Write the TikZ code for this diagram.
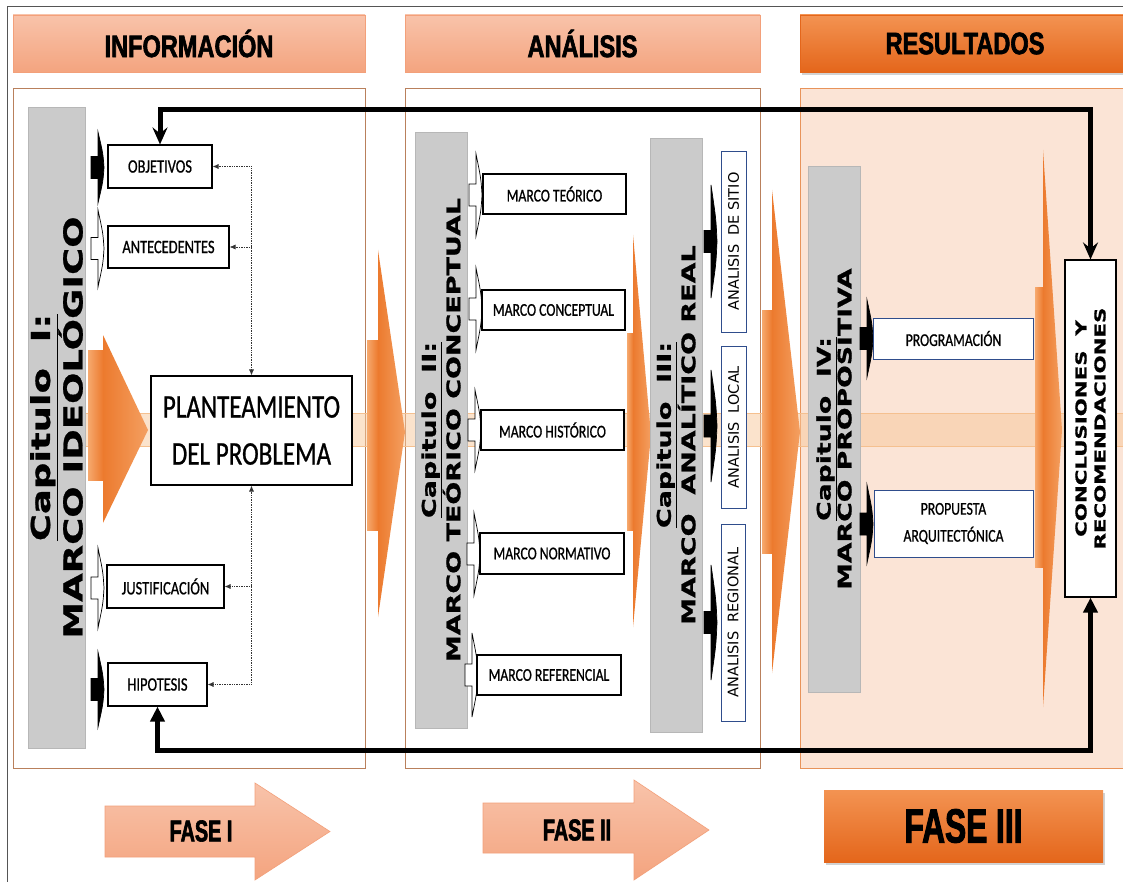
\documentclass[tikz,border=0pt]{standalone}
\usepackage{fontspec}
\usepackage{xcolor}
\usetikzlibrary{calc,positioning,arrows.meta,shadows}

\newfontfamily\boxfont[FakeStretch=0.76,FakeBold=0.8]{Carlito}
\newfontfamily\capfont[FakeStretch=1.42,FakeBold=1]{DejaVu Sans Bold}
\newfontfamily\headfont[FakeStretch=0.76,FakeBold=2]{Liberation Sans Bold}
\newfontfamily\fasefont[FakeStretch=0.66,FakeBold=2]{Liberation Sans Bold}
\newfontfamily\sidefont{DejaVu Sans}

\definecolor{salmonT}{HTML}{F8C3AA}
\definecolor{salmonB}{HTML}{F4A47F}
\definecolor{salmonline}{HTML}{F3A07A}
\definecolor{orangeT}{HTML}{F39352}
\definecolor{orangeB}{HTML}{E4661B}
\definecolor{panelline}{HTML}{B9805C}
\definecolor{peach}{HTML}{FBE4D6}
\definecolor{peachline}{HTML}{E8935A}
\definecolor{band}{HTML}{F9C89A}
\definecolor{bandline}{HTML}{F5C08F}
\definecolor{bigorange}{HTML}{EC7A2E}
\definecolor{bigorangeL}{HTML}{F6A96E}
\definecolor{bargray}{HTML}{CBCBCB}
\definecolor{boxblue}{HTML}{2F4D8C}
\definecolor{framegray}{HTML}{555555}

% big 3d orange arrow: xl, xt, xp, ytop, ybev1, ymid, ybev2, ybot
\newcommand{\bigarrow}[8]{%
  \shade[left color=bigorangeL,right color=bigorange] (#1,#5) rectangle (#2,#7);
  \shade[left color=bigorange,right color=bigorangeL!80!bigorange] (#2,#4) -- (#3,#6) -- (#2,#8) -- cycle;
}
% small bullet arrow: left x, top y, bottom y, fill
\newcommand{\tagarrow}[4]{%
  \draw[line width=0.7pt,fill=#4] (#1+7,#2) .. controls (#1+12,{#2+0.3*(#3-#2)}) .. (#1+13,{0.5*(#2+#3)})
    .. controls (#1+12,{#2+0.7*(#3-#2)}) .. (#1+7,#3) -- (#1+7,{0.5*(#2+#3)+11}) -- (#1,{0.5*(#2+#3)+11})
    -- (#1,{0.5*(#2+#3)-11}) -- (#1+7,{0.5*(#2+#3)-11}) -- cycle;
}

\begin{document}
\begin{tikzpicture}[x=1pt,y=-1pt,
    box/.style={draw=black,line width=1.1pt,fill=white,inner sep=0pt,align=center,
                font=\boxfont\fontsize{19}{21}\selectfont},
    mbox/.style={box,minimum width=144pt,minimum height=40pt,font=\boxfont\fontsize{18}{20}\selectfont},
    bluebox/.style={box,draw=boxblue,line width=0.9pt,font=\boxfont\fontsize{18}{27}\selectfont},
    sidebox/.style={box,draw=boxblue,line width=0.9pt,rotate=90,font=\sidefont\fontsize{14.5}{16}\selectfont},
    bar/.style={fill=bargray,draw=bargray!90!black,line width=0.4pt,rotate=90,inner sep=0pt,align=center},
    head/.style={draw=salmonline,line width=0.6pt,top color=salmonT,bottom color=salmonB,
                 inner sep=0pt,minimum height=57pt,font=\headfont\fontsize{31}{31}\selectfont},
    panel/.style={draw=panelline,line width=0.8pt,fill=white},
    dotline/.style={densely dotted,line width=0.7pt,draw=black!80,-{Latex[length=6pt,width=5pt]}},
    fback/.style={line width=5pt,black},
    fase/.style={draw=salmonline,line width=0.6pt,top color=salmonT,bottom color=salmonB}]

  \useasboundingbox (0,0) rectangle (1123,882);
  \fill[white] (0,0) rectangle (1123,882);
  \draw[framegray,line width=1pt] (7,882) -- (7,7) -- (1123,7);

  % headers
  \node[head,minimum width=352pt] (info) at (189,43.5) {INFORMACIÓN};
  \node[head,minimum width=355pt] (anal) at (582.5,43.5) {ANÁLISIS};
  \node[head,minimum width=330pt,top color=orangeT,bottom color=orangeB,draw=orangeB,
        drop shadow={opacity=0.35,shadow xshift=2pt,shadow yshift=-3pt}] (resu) at (965,43.5) {RESULTADOS};

  % panels
  \draw[panel] (13,88) rectangle (365,768);
  \draw[panel] (405,88) rectangle (760,768);
  \draw[draw=peachline,line width=0.8pt,fill=peach] (800,88) rectangle (1130,768);

  % band
  \fill[band,opacity=0.5] (85,413) rectangle (1123,446);
  \draw[bandline,line width=0.5pt] (85,413) -- (1123,413) (85,446) -- (1123,446);

  % big arrows
  \bigarrow{88}{103}{148}{335}{350}{430}{480}{523}
  \bigarrow{367}{378}{405}{250}{340}{432}{530}{617}
  \bigarrow{627}{633}{651}{235}{333}{435}{530}{627}
  \bigarrow{762}{772}{800}{190}{310}{432}{553}{673}
  \bigarrow{1035}{1043}{1062}{150}{288}{430}{567}{707}

  % chapters
  \node[bar,minimum width=641pt,minimum height=57pt,font=\capfont\fontsize{26}{25}\selectfont]
    (cap1) at (56.5,427.5) {\underline{Capitulo\ \ I:}\\MARCO IDEOLÓGICO};
  \node[bar,minimum width=596pt,minimum height=52pt,font=\capfont\fontsize{19}{19}\selectfont]
    (cap2) at (441,430) {\underline{Capitulo\ \ II:}\\MARCO TEÓRICO CONCEPTUAL};
  \node[bar,minimum width=594pt,minimum height=52pt,font=\capfont\fontsize{19}{19}\selectfont]
    (cap3) at (676,435) {\underline{Capitulo\ \ III:}\\MARCO\ \ ANALÍTICO REAL};
  \node[bar,minimum width=526pt,minimum height=52pt,font=\capfont\fontsize{18.8}{19}\selectfont]
    (cap4) at (834,429) {\underline{Capitulo\ \ IV:}\\MARCO PROPOSITIVA};

  % bullets
  \tagarrow{91}{132}{203}{black}
  \tagarrow{91}{210}{287}{white}
  \tagarrow{91}{548}{628}{white}
  \tagarrow{91}{652}{727}{black}
  \tagarrow{469}{154}{236}{white}
  \tagarrow{469}{268}{350}{white}
  \tagarrow{468}{390}{470}{white}
  \tagarrow{467}{513}{595}{white}
  \tagarrow{465}{633}{717}{white}
  \tagarrow{704}{185}{298}{black}
  \tagarrow{704}{370}{482}{black}
  \tagarrow{704}{565}{680}{black}
  \tagarrow{860}{300}{377}{black}
  \tagarrow{860}{485}{563}{black}

  % fase I
  \node[box,minimum width=104pt,minimum height=43pt] (obj) at (160,166.5) {OBJETIVOS};
  \node[box,minimum width=121pt,minimum height=42pt] (ant) at (168.5,247) {ANTECEDENTES};
  \node[box,minimum width=201pt,minimum height=109pt,font=\boxfont\fontsize{33}{47}\selectfont]
    (plan) at (251.5,430.5) {PLANTEAMIENTO\\DEL PROBLEMA};
  \node[box,minimum width=117pt,minimum height=43pt] (jus) at (165.5,586.5) {JUSTIFICACIÓN};
  \node[box,minimum width=99pt,minimum height=43pt] (hip) at (157.5,684.5) {HIPOTESIS};

  \draw[dotline] (obj.east -| plan.north) -- (plan.north);
  \draw[dotline] (obj.east -| plan.north) -- (obj.east);
  \draw[dotline] (ant.east -| plan.north) -- (ant.east);
  \draw[dotline] (hip.east -| plan.south) -- (plan.south);
  \draw[dotline] (hip.east -| plan.south) -- (hip.east);
  \draw[dotline] (jus.east -| plan.south) -- (jus.east);

  % fase II
  \node[mbox,minimum width=143pt] (teo) at (554.5,194) {MARCO TEÓRICO};
  \node[mbox,minimum width=143pt] (con) at (553.5,310) {MARCO CONCEPTUAL};
  \node[mbox,minimum width=143pt] (his) at (552.5,430) {MARCO HISTÓRICO};
  \node[mbox,minimum height=41pt] (nor) at (552,553.5) {MARCO NORMATIVO};
  \node[mbox] (ref) at (549,675) {MARCO REFERENCIAL};

  \node[sidebox,minimum width=181pt,minimum height=25pt] (sitio) at (733.5,241.5) {ANALISIS\ \ DE SITIO};
  \node[sidebox,minimum width=162pt,minimum height=25pt] (local) at (733.5,427) {ANALISIS\ \ LOCAL};
  \node[sidebox,minimum width=197pt,minimum height=24pt] (regio) at (733,622.5) {ANALISIS\ \ REGIONAL};

  % fase III
  \node[bluebox,minimum width=160pt,minimum height=41pt] (prog) at (953.5,338.5) {PROGRAMACIÓN};
  \node[bluebox,minimum width=159pt,minimum height=67pt] (prop) at (953.5,523.5) {PROPUESTA\\ARQUITECTÓNICA};
  \node[box,minimum width=337pt,minimum height=51pt,rotate=90,font=\capfont\fontsize{15}{19}\selectfont]
    (concl) at (1090.5,428.5) {CONCLUSIONES\ \ Y\\RECOMENDACIONES};

  % feedback
  \draw[fback,{Stealth[length=17pt,width=15pt,inset=6pt]}-{Stealth[length=17pt,width=15pt,inset=6pt]}]
    (concl.east) -- ++(0,-150) -| (obj.north);
  \draw[fback,{Triangle[length=15pt,width=14pt]}-{Triangle[length=15pt,width=14pt]}]
    (hip.south) -- ++(0,44) -| (concl.west);

  % phases
  \draw[fase] (105,806) -- (255,806) -- (255,783) -- (330,831.5) -- (255,880) -- (255,857) -- (105,857) -- cycle;
  \node[font=\fasefont\fontsize{30}{30}\selectfont] (f1) at (201,831) {FASE I};
  \draw[fase] (483,803) -- (634,803) -- (634,780) -- (709,830) -- (634,880) -- (634,853) -- (483,853) -- cycle;
  \node[font=\fasefont\fontsize{30}{30}\selectfont] (f2) at (577,830) {FASE II};
  \node[top color=orangeT,bottom color=orangeB,minimum width=279pt,minimum height=72pt,
        drop shadow={opacity=0.35,shadow xshift=2pt,shadow yshift=-3pt},
        font=\fasefont\fontsize{48}{48}\selectfont] (f3) at (963.5,826) {FASE III};
\end{tikzpicture}
\end{document}
